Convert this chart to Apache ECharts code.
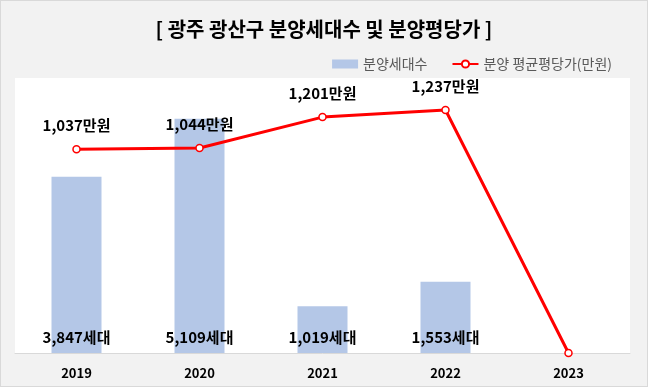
<!DOCTYPE html>
<html><head><meta charset="utf-8">
<script src="https://cdn.jsdelivr.net/npm/echarts@6/dist/echarts.min.js"></script>
<style>
html,body{margin:0;padding:0;background:#f2f2f2;}
#c{width:646px;height:385px;border:1px solid #d9d9d9;background:#f2f2f2;}
</style></head><body>
<div id="c"></div>
<script>
const categories = ['2019','2020','2021','2022','2023'];
const households = [3847, 5109, 1019, 1553, null];
const avgPrice = [1037, 1044, 1201, 1237, 0];
const titleText = '[ 광주 광산구 분양세대수 및 분양평당가 ]';
const barName = '분양세대수';
const lineName = '분양 평균평당가(만원)';

const F = '"Noto Sans CJK KR", "Noto Sans", sans-serif';
const fmt = v => v.toLocaleString('en-US');
const chart = echarts.init(document.getElementById('c'));
chart.setOption({
  backgroundColor: '#f2f2f2',
  textStyle: {fontFamily: F},
  title: {text: titleText, left: 'center', top: 13,
    textStyle: {fontFamily: F, fontSize: 20, fontWeight: 'bold', color: '#000'}},
  legend: {right: 30, top: 51, itemGap: 24, itemWidth: 26, itemHeight: 9,
    textStyle: {fontFamily: F, fontSize: 14, color: '#595959'},
    data: [{name: barName, icon: 'rect'}, {name: lineName}]},
  grid: {left: 14, right: 17, top: 77, bottom: 33, show: true, backgroundColor: '#fff', borderWidth: 0},
  xAxis: {type: 'category', data: categories,
    axisLine: {lineStyle: {color: '#d9d9d9', width: 1}}, axisTick: {show: false},
    axisLabel: {fontFamily: F, fontSize: 13, fontWeight: 'bold', color: '#000', margin: 14}},
  yAxis: [
    {type: 'value', min: 0, max: 6000, show: false, splitLine: {show: false}},
    {type: 'value', min: 0, max: 1400, show: false, splitLine: {show: false}}
  ],
  series: [
    {name: barName, type: 'bar', data: households, barWidth: 50, yAxisIndex: 0,
      itemStyle: {color: '#b4c7e7'},
      label: {show: true, position: 'insideBottom', distance: 8,
        fontFamily: F, fontSize: 15, fontWeight: 'bold', color: '#000',
        formatter: p => fmt(p.value) + '세대'}},
    {name: lineName, type: 'line', data: avgPrice, yAxisIndex: 1,
      symbol: 'circle', symbolSize: 7,
      lineStyle: {color: '#ff0000', width: 3},
      itemStyle: {color: '#fff', borderColor: '#ff0000', borderWidth: 1.5},
      label: {show: true, position: 'top', distance: 12,
        fontFamily: F, fontSize: 15, fontWeight: 'bold', color: '#000',
        formatter: p => p.value ? fmt(p.value) + '만원' : ''}}
  ]
});
</script>
</body></html>
